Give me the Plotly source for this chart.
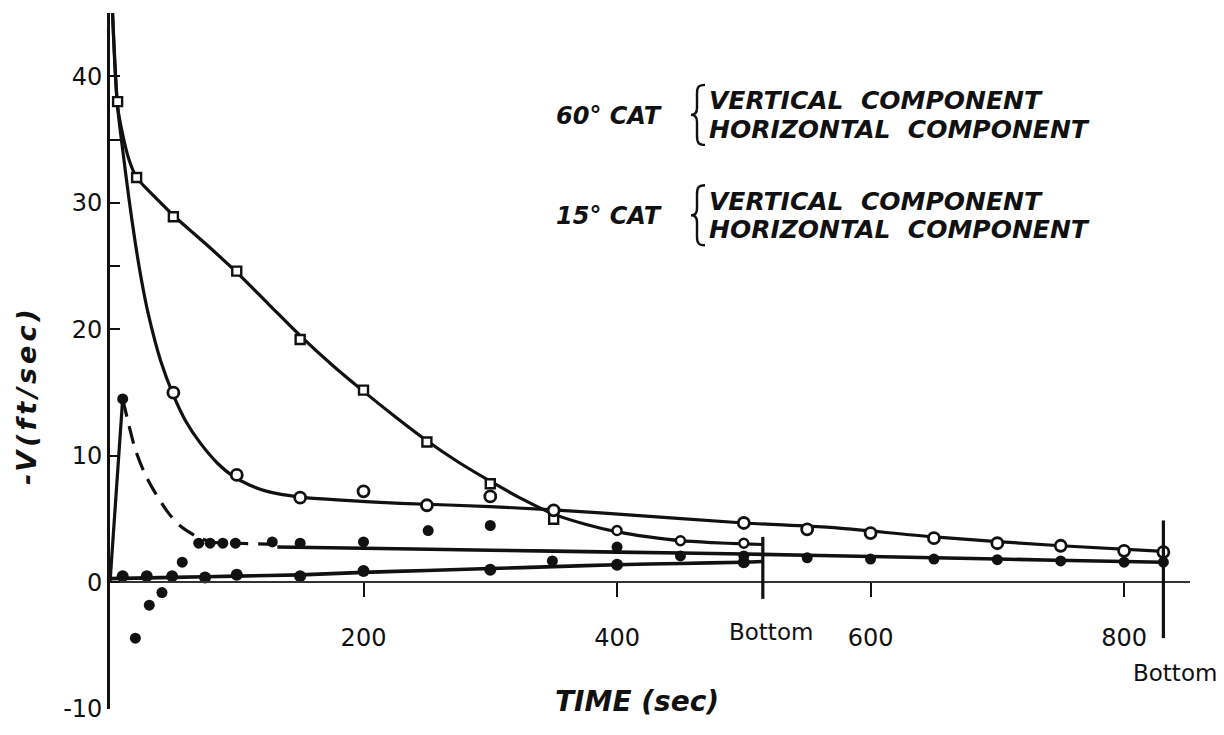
import plotly.graph_objects as go

# ---------------- data ----------------
# 60 deg CAT, vertical component (fitted curve and measured points)
cat60_vert_curve_t = [2, 6, 10, 15, 21, 30, 40, 50, 75, 100, 125, 150, 175, 200, 225, 250,
                      275, 300, 325, 350, 375, 400, 425, 450, 475, 500, 515]
cat60_vert_curve_v = [45, 37.6, 35.4, 33.4, 32.0, 31.0, 30.0, 29.0, 26.8, 24.5, 22.0, 19.5, 17.2,
                      15.1, 13.1, 11.2, 9.5, 8.0, 6.6, 5.4, 4.6, 4.0, 3.6, 3.3, 3.15, 3.05, 3.0]
cat60_vert_pts_t = [6, 21, 50, 100, 150, 200, 250, 300, 350, 400, 450, 500]
cat60_vert_pts_v = [38, 32, 28.9, 24.6, 19.2, 15.2, 11.1, 7.8, 5.0, 4.1, 3.3, 3.1]
cat60_vert_sym = ["square"] * 9 + ["circle"] * 3

# 60 deg CAT, horizontal component
cat60_horz_curve_t = [0, 50, 100, 150, 200, 250, 300, 350, 400, 450, 500, 515]
cat60_horz_curve_v = [0.3, 0.4, 0.5, 0.6, 0.8, 0.95, 1.1, 1.25, 1.4, 1.5, 1.6, 1.65]
cat60_horz_pts_t = [10, 29, 49, 75, 100, 150, 200, 300, 400, 500]
cat60_horz_pts_v = [0.5, 0.5, 0.5, 0.4, 0.6, 0.5, 0.9, 1.0, 1.4, 1.6]

# 15 deg CAT, vertical component
cat15_vert_curve_t = [2, 6, 10, 15, 20, 25, 30, 40, 50, 60, 71, 85, 97, 110, 124, 150, 176,
                      229, 300, 387, 500, 568, 650, 750, 831]
cat15_vert_curve_v = [45, 37.6, 34.2, 30.3, 26.8, 23.8, 21.3, 17.5, 14.8, 12.7, 11.05, 9.4, 8.4,
                      7.7, 7.2, 6.75, 6.55, 6.25, 6.0, 5.5, 4.7, 4.35, 3.6, 2.9, 2.45]
cat15_vert_pts_t = [50, 100, 150, 200, 250, 300, 350, 500, 550, 600, 650, 700, 750, 800, 831]
cat15_vert_pts_v = [15.0, 8.5, 6.7, 7.2, 6.1, 6.8, 5.7, 4.7, 4.2, 3.9, 3.5, 3.1, 2.9, 2.5, 2.4]

# 15 deg CAT, horizontal component: initial rise, dashed decay, then steady run
cat15_horz_rise_t = [0, 10]
cat15_horz_rise_v = [0, 14.5]
cat15_horz_decay_t = [10, 15, 20, 27, 35, 46, 55, 69, 80, 100, 132]
cat15_horz_decay_v = [14.5, 12.4, 10.5, 8.7, 7.2, 5.5, 4.5, 3.6, 3.2, 3.1, 3.0]
cat15_horz_steady_t = [132, 200, 300, 400, 500, 600, 700, 800, 831]
cat15_horz_steady_v = [2.8, 2.7, 2.55, 2.4, 2.25, 2.05, 1.85, 1.65, 1.6]
cat15_horz_pts_t = [10, 20, 31, 41, 57, 70, 79, 89, 99, 128, 150, 200, 251, 300, 349,
                    400, 450, 500, 550, 600, 650, 700, 750, 800, 831]
cat15_horz_pts_v = [14.5, -4.4, -1.8, -0.8, 1.6, 3.1, 3.1, 3.1, 3.1, 3.2, 3.1, 3.2, 4.1, 4.5, 1.7,
                    2.8, 2.1, 2.1, 1.95, 1.85, 1.85, 1.8, 1.7, 1.6, 1.6]

# time at which each cat reached the bottom
bottom_times = [515, 831]
bottom_spans = [(-1.3, 3.6), (-4.4, 4.9)]

x_ticks = [200, 400, 600, 800]
y_ticks = [-10, 0, 10, 20, 25, 30, 35, 40]
y_tick_text = ["-10", "0", "10", "20", "", "30", "", "40"]

# ---------------- layout helpers ----------------
W, H = 1224, 735
L, R, T, B = 110, 1190, 13, 720
X_RANGE = [0, 852]
Y_RANGE = [-10, 45]


def px(x):
    return (x - L) / (R - L)


def py(y):
    return (B - y) / (B - T)


INK = "#111111"
LW = 3.2
TEXT_FONT = "DejaVu Sans"

fig = go.Figure()


def curve(t, v, dash="solid", width=LW):
    fig.add_trace(go.Scatter(x=t, y=v, mode="lines", line=dict(color=INK, width=width, dash=dash,
                             shape="spline", smoothing=0.8), hoverinfo="skip", showlegend=False))


def points(t, v, symbol, filled, size, edge=2.4):
    fig.add_trace(go.Scatter(
        x=t, y=v, mode="markers",
        marker=dict(symbol=symbol, size=size,
                    color=INK if filled else "white",
                    line=dict(color=INK, width=0 if filled else edge)),
        showlegend=False))


curve(cat60_vert_curve_t, cat60_vert_curve_v)
curve(cat60_horz_curve_t, cat60_horz_curve_v, width=3.6)
curve(cat15_vert_curve_t, cat15_vert_curve_v)
fig.add_trace(go.Scatter(x=cat15_horz_rise_t, y=cat15_horz_rise_v, mode="lines",
                         line=dict(color=INK, width=LW), showlegend=False))
curve(cat15_horz_decay_t, cat15_horz_decay_v, dash="18px,10px")
curve(cat15_horz_steady_t, cat15_horz_steady_v, width=3.6)

points(cat60_vert_pts_t, cat60_vert_pts_v, cat60_vert_sym, False, 9, edge=2.4)
points(cat15_vert_pts_t, cat15_vert_pts_v, "circle", False, 11, edge=2.8)
points(cat60_horz_pts_t, cat60_horz_pts_v, "circle", True, 12)
points(cat15_horz_pts_t, cat15_horz_pts_v, "circle", True, 11)

# bottom markers
for bt, (lo, hi) in zip(bottom_times, bottom_spans):
    fig.add_shape(type="line", xref="x", yref="y", x0=bt, x1=bt, y0=lo, y1=hi,
                  line=dict(color=INK, width=3.2))

annotations = []
tick_font = dict(family=TEXT_FONT, size=24, color=INK)
bottom_font = dict(family=TEXT_FONT, size=23, color=INK)
annotations.append(dict(x=px(771), y=py(642), xref="paper", yref="paper", text="Bottom",
                        showarrow=False, font=bottom_font, xanchor="center", yanchor="middle"))
annotations.append(dict(x=px(1219), y=py(683), xref="paper", yref="paper", text="Bottom",
                        showarrow=False, font=bottom_font, xanchor="right", yanchor="middle"))

title_font = dict(family=TEXT_FONT, size=28, color=INK)
annotations.append(dict(x=px(637), y=py(712), xref="paper", yref="paper",
                        text="<b><i>TIME (sec)</i></b>", showarrow=False, font=title_font,
                        xanchor="center", yanchor="middle"))
annotations.append(dict(x=px(27), y=py(401), xref="paper", yref="paper",
                        text="<span style='letter-spacing:4px'><b><i>-V(ft/sec)</i></b></span>",
                        showarrow=False, font=dict(family=TEXT_FONT, size=27, color=INK),
                        textangle=-90, xanchor="center", yanchor="middle"))

# key: group label, curly brace, two component lines
key_font = dict(family=TEXT_FONT, size=25, color=INK)
key_groups = [("60° CAT", 102, 131), ("15° CAT", 204, 233)]
shapes = []
for label, y1, y2 in key_groups:
    yc = (y1 + y2) / 2
    annotations.append(dict(x=px(664), y=py(yc + 1), xref="paper", yref="paper",
                            text=f"<b><i>{label}</i></b>", showarrow=False,
                            font=dict(family=TEXT_FONT, size=24, color=INK),
                            xanchor="right", yanchor="middle"))
    for txt, yy in (("VERTICAL  COMPONENT", y1), ("HORIZONTAL  COMPONENT", y2)):
        annotations.append(dict(x=px(707), y=py(yy), xref="paper", yref="paper",
                                text=f"<b><i>{txt}</i></b>", showarrow=False, font=key_font,
                                xanchor="left", yanchor="middle"))
    # brace drawn as a path in paper coordinates
    xc, yt, yb = 697, y1 - 16, y2 + 16
    ym = (yt + yb) / 2
    pts = [("M", [(xc + 8, yt)]),
           ("C", [(xc + 1, yt), (xc, yt + 3), (xc, yt + 9)]),
           ("L", [(xc, ym - 7)]),
           ("C", [(xc, ym - 2), (xc - 2, ym), (xc - 6, ym)]),
           ("C", [(xc - 2, ym), (xc, ym + 2), (xc, ym + 7)]),
           ("L", [(xc, yb - 9)]),
           ("C", [(xc, yb - 3), (xc + 1, yb), (xc + 8, yb)])]
    path = " ".join(cmd + " " + " ".join(f"{px(a):.5f},{py(b):.5f}" for a, b in p) for cmd, p in pts)
    shapes.append(dict(type="path", xref="paper", yref="paper", path=path,
                       line=dict(color=INK, width=2.4)))

for s in shapes:
    fig.add_shape(**s)

fig.update_layout(
    width=W, height=H,
    margin=dict(l=L, r=W - R, t=T, b=H - B),
    paper_bgcolor="white", plot_bgcolor="white",
    showlegend=False,
    annotations=annotations,
    xaxis=dict(range=X_RANGE, anchor="free", position=(0 - Y_RANGE[0]) / (Y_RANGE[1] - Y_RANGE[0]),
               showgrid=False, zeroline=False, showline=True, linecolor="#333333", linewidth=1.6,
               tickmode="array", tickvals=x_ticks, ticks="outside", ticklen=14, tickwidth=2,
               tickcolor=INK, tickfont=tick_font, ticklabelstandoff=20),
    yaxis=dict(range=Y_RANGE, showgrid=False, zeroline=False, showline=True, linecolor=INK,
               linewidth=2.6, tickmode="array", tickvals=y_ticks, ticktext=y_tick_text,
               ticks="inside", ticklen=10, tickwidth=2.4, tickcolor=INK, tickfont=tick_font),
)

fig.write_html("out.html")
